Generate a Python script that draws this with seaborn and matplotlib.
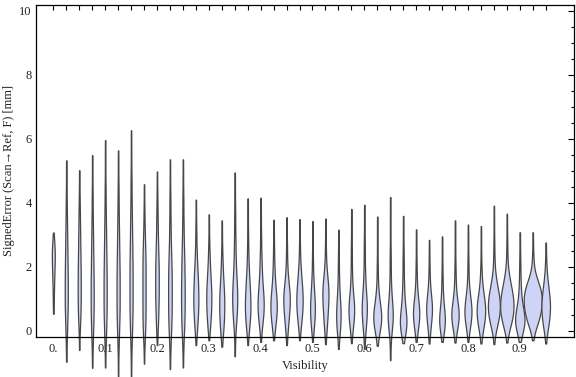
import matplotlib
matplotlib.use("Agg")
import matplotlib.pyplot as plt
import matplotlib.ticker as mticker
import seaborn as sns
import pandas as pd
import numpy as np

# Visibility bins (category centres)
visibility = [round(0.025 * i, 3) for i in range(39)]

# Smallest and largest signed error in each bin [mm]
err_min = [0.53, -0.97, -0.60, -1.16, -1.15, -1.44, -1.47, -1.03, -0.45, -1.20,
           -1.15, -0.45, -0.30, -0.50, -0.80, -0.45, -0.35, -0.30, -0.45, -0.30,
           -0.35, -0.42, -0.57, -0.39, -0.57, -0.47, -0.92, -0.39, -0.35, -0.40,
           -0.35, -0.37, -0.35, -0.40, -0.42, -0.37, -0.35, -0.30, -0.40]
err_max = [3.07, 5.33, 5.02, 5.49, 5.96, 5.64, 6.27, 4.58, 4.98, 5.36,
           5.36, 4.10, 3.64, 3.45, 4.95, 4.14, 4.16, 3.47, 3.55, 3.49,
           3.43, 3.51, 3.16, 3.81, 3.94, 3.57, 4.18, 3.59, 3.17, 2.84,
           2.95, 3.45, 3.32, 3.27, 3.91, 3.66, 3.08, 3.08, 2.76]

# Number of observations at evenly spaced error levels from err_min to err_max
obs_counts = [
    [1, 2, 2, 3, 4, 5, 6, 4, 1],
    [1, 1, 2, 3, 4, 5, 6, 6, 6, 6, 5, 5, 4, 4, 3, 3, 2, 2, 1, 1, 1, 1],
    [1, 1, 2, 4, 5, 6, 6, 6, 6, 5, 5, 4, 4, 3, 3, 2, 2, 1, 1, 1],
    [1, 1, 2, 3, 4, 5, 6, 6, 6, 6, 5, 5, 4, 4, 3, 3, 2, 2, 2, 1, 1, 1, 1],
    [1, 1, 2, 3, 4, 5, 6, 6, 6, 6, 6, 5, 5, 4, 4, 3, 3, 2, 2, 2, 1, 1, 1, 1, 1],
    [1, 1, 1, 2, 3, 4, 5, 6, 6, 6, 6, 6, 5, 5, 4, 4, 3, 3, 2, 2, 2, 1, 1, 1, 1],
    [1, 1, 1, 2, 3, 4, 5, 6, 6, 6, 6, 6, 6, 5, 5, 4, 4, 3, 3, 2, 2, 2, 1, 1, 1, 1, 1],
    [1, 1, 2, 4, 5, 6, 6, 6, 6, 6, 6, 6, 5, 4, 3, 2, 2, 1, 1, 1],
    [1, 2, 4, 5, 6, 7, 7, 7, 7, 6, 5, 4, 3, 3, 2, 2, 1, 1, 1],
    [1, 1, 2, 3, 5, 6, 7, 7, 7, 7, 7, 6, 5, 4, 3, 3, 2, 2, 2, 1, 1, 1, 1],
    [1, 1, 2, 3, 5, 6, 7, 7, 7, 7, 6, 6, 5, 4, 3, 3, 2, 2, 2, 1, 1, 1, 1],
    [1, 3, 6, 8, 10, 10, 9, 8, 6, 4, 3, 2, 2, 1, 1, 1],
    [1, 4, 7, 9, 10, 10, 8, 6, 4, 3, 2, 1, 1, 1],
    [1, 4, 7, 9, 10, 10, 8, 6, 4, 3, 2, 1, 1, 1],
    [1, 1, 2, 4, 7, 9, 10, 9, 7, 5, 4, 3, 3, 2, 2, 2, 1, 1, 1, 1],
    [1, 3, 7, 10, 11, 10, 8, 6, 4, 3, 2, 2, 1, 1, 1, 1],
    [1, 3, 7, 11, 12, 10, 7, 5, 4, 3, 2, 2, 1, 1, 1, 1],
    [1, 4, 8, 11, 12, 9, 6, 4, 3, 2, 2, 1, 1, 1],
    [1, 3, 6, 9, 12, 13, 9, 5, 3, 2, 2, 1, 1, 1],
    [1, 3, 7, 10, 12, 11, 9, 6, 4, 2, 2, 1, 1, 1],
    [1, 3, 7, 9, 9, 7, 5, 3, 2, 2, 1, 1, 1, 1],
    [1, 3, 6, 8, 10, 12, 11, 7, 4, 2, 2, 1, 1, 1],
    [1, 3, 7, 9, 9, 6, 4, 3, 2, 2, 1, 1, 1],
    [1, 3, 8, 11, 11, 7, 4, 3, 2, 2, 2, 1, 1, 1, 1],
    [1, 2, 5, 8, 10, 9, 6, 4, 3, 2, 2, 2, 1, 1, 1, 1],
    [1, 5, 13, 16, 11, 6, 3, 2, 2, 1, 1, 1, 1, 1],
    [1, 1, 2, 5, 9, 10, 7, 4, 3, 2, 2, 2, 1, 1, 1, 1, 1, 1],
    [1, 8, 13, 10, 6, 4, 3, 2, 2, 2, 1, 1, 1, 1],
    [1, 4, 9, 12, 9, 5, 3, 2, 2, 1, 1, 1, 1],
    [1, 3, 6, 10, 11, 7, 4, 2, 2, 1, 1, 1],
    [1, 6, 11, 9, 5, 3, 2, 2, 1, 1, 1, 1],
    [1, 4, 11, 14, 10, 5, 3, 2, 2, 1, 1, 1, 1, 1],
    [1, 4, 10, 14, 11, 6, 3, 2, 2, 1, 1, 1, 1],
    [1, 5, 12, 17, 16, 10, 5, 3, 2, 1, 1, 1, 1],
    [1, 4, 14, 22, 24, 20, 12, 6, 3, 2, 2, 1, 1, 1, 1],
    [1, 6, 18, 26, 27, 22, 14, 7, 3, 2, 2, 1, 1, 1],
    [1, 10, 19, 14, 7, 4, 3, 2, 2, 1, 1, 1],
    [1, 8, 24, 32, 36, 34, 20, 6, 3, 2, 1, 1],
    [1, 4, 10, 14, 16, 14, 10, 6, 3, 2, 1, 1],
]

xtick_values = [0.0, 0.1, 0.2, 0.3, 0.4, 0.5, 0.6, 0.7, 0.8, 0.9]
xtick_labels = ["0.", "0.1", "0.2", "0.3", "0.4", "0.5", "0.6", "0.7", "0.8", "0.9"]
ytick_values = [0, 2, 4, 6, 8, 10]

# Long-form table: one row per observation
vis_col, err_col = [], []
peak_count_density = []
for v, lo, hi, counts in zip(visibility, err_min, err_max, obs_counts):
    levels = np.linspace(lo, hi, len(counts))
    peak_count_density.append(max(counts) / (levels[1] - levels[0]))
    for lev, c in zip(levels, counts):
        vis_col += [v] * c
        err_col += [lev] * c
df = pd.DataFrame({"Visibility": vis_col, "Error": err_col})

sns.set_style("white")
serif = ["Liberation Serif", "DejaVu Serif"]
plt.rcParams["font.family"] = serif

fig = plt.figure(figsize=(5.76, 3.77), dpi=100)
ax = fig.add_axes([36 / 576, 1 - 337.3 / 377, (574 - 36) / 576, (337.3 - 4.7) / 377])

# fixed kernel bandwidth of ~0.25 mm for every bin
bw_fixed = lambda k: 0.25 / np.std(k.dataset)

bin_spacing = 0.025
max_width = 1.39 * bin_spacing
gmax = max(peak_count_density)
for v, pk in zip(visibility, peak_count_density):
    sub = df[df["Visibility"] == v]
    sns.violinplot(
        data=sub, x="Visibility", y="Error", native_scale=True, orient="x",
        inner=None, cut=0, density_norm="width", width=max_width * pk / gmax,
        bw_method=bw_fixed, gridsize=300, color="#cdd4f5", saturation=1,
        linecolor="#474747", linewidth=0.9, ax=ax,
    )
for coll in ax.collections:
    coll.set_clip_on(False)

ax.set_xlim(-0.0334, 1.0046)
ax.set_ylim(-0.206, 10.197)

ax.xaxis.set_major_locator(mticker.FixedLocator(xtick_values))
ax.xaxis.set_major_formatter(mticker.FixedFormatter(xtick_labels))
ax.xaxis.set_minor_locator(mticker.FixedLocator(visibility))
ax.yaxis.set_major_locator(mticker.FixedLocator(ytick_values))
ax.yaxis.set_minor_locator(mticker.MultipleLocator(0.5))

ax.tick_params(axis="both", which="both", direction="in", top=True, right=True,
               color="black", width=0.8, labelsize=9, labelcolor="#222222")
ax.tick_params(axis="x", which="both", length=3.4, pad=4)
ax.tick_params(axis="y", which="major", length=4.2, pad=3)
ax.tick_params(axis="y", which="minor", length=2.3)

for sp in ax.spines.values():
    sp.set_color("black")
    sp.set_linewidth(0.9)

ax.set_xlabel("Visibility", fontsize=9, color="#222222", labelpad=4)
ax.set_ylabel("SignedError (Scan\u2192Ref, F) [mm]", fontsize=9, color="#222222", labelpad=3)

fig.savefig("out.png", dpi=100)
